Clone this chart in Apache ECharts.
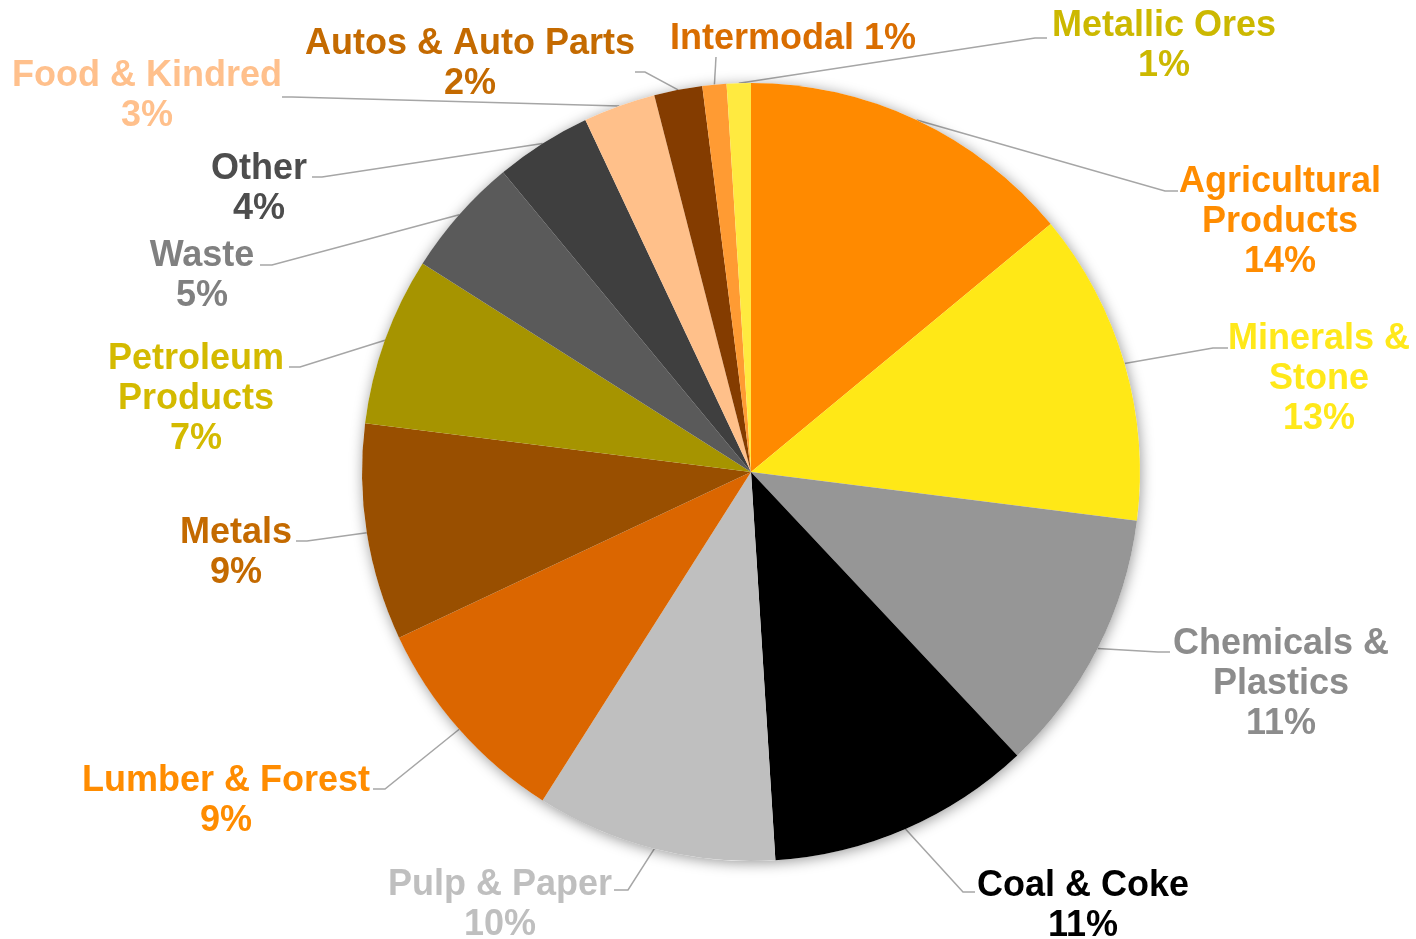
<!DOCTYPE html>
<html>
<head>
<meta charset="utf-8">
<script src="https://cdn.jsdelivr.net/npm/echarts@6/dist/echarts.min.js"></script>
<style>
html,body{margin:0;padding:0;background:#ffffff;}
#chart{width:1416px;height:939px;}
</style>
</head>
<body>
<div id="chart"></div>
<script>
// ---- data ----
const categories = ['Agricultural Products','Minerals & Stone','Chemicals & Plastics','Coal & Coke','Pulp & Paper','Lumber & Forest','Metals','Petroleum Products','Waste','Other','Food & Kindred','Autos & Auto Parts','Intermodal','Metallic Ores'];
const shares = [14,13,11,11,10,9,9,7,5,4,3,2,1,1];

// ---- styles ----
const sliceColors = ['#FF8A00','#FFE817','#969696','#000000','#BFBFBF','#DB6600','#994F00','#A69400','#5A5A5A','#3F3F3F','#FFC08A','#843C00','#FF9B33','#FFEA40'];
const labelColors = ['#FF8C00','#FFE81A','#8C8C8C','#000000','#BFBFBF','#FF8C00','#C46A00','#D4BA00','#808080','#4D4D4D','#FFC08C','#C46A00','#D96D00','#CCB800'];
const labelWrap = {
  'Agricultural Products':'Agricultural\nProducts',
  'Minerals & Stone':'Minerals &\nStone',
  'Chemicals & Plastics':'Chemicals &\nPlastics',
  'Petroleum Products':'Petroleum\nProducts'
};
const sameLine = {'Intermodal': true};

// label placement: [text centre x, first line centre y, leader end x, leader end y, elbow x]
const labelPlacement = [
  [1280, 182, 1178, 191, 1165],
  [1319, 339, 1228, 348, 1213],
  [1281, 644, 1170, 652, 1158],
  [1083, 886,  975, 892,  963],
  [ 500, 885,  614, 890,  628],
  [ 226, 781,  373, 789,  385],
  [ 236, 533,  296, 541,  307],
  [ 196, 359,  289, 367,  300],
  [ 202, 256,  260, 265,  272],
  [ 259, 169,  312, 177,  322],
  [ 147,  76,  282,  97,  292],
  [ 470,  44,  635,  72,  645],
  [ 793,  39,  716,  57,  716],
  [1164,  26, 1047,  38, 1035]
];
const LINE_H = 40;

const chart = echarts.init(document.getElementById('chart'), null, {renderer:'canvas'});

const data = categories.map((name, i) => ({
  name: name,
  value: shares[i],
  itemStyle: {color: sliceColors[i]},
  label: {color: labelColors[i]}
}));

const option = {
  animation: false,
  backgroundColor: '#ffffff',
  series: [
    {
      type: 'pie',
      silent: true,
      center: [751, 472],
      radius: 389,
      label: {show: false},
      labelLine: {show: false},
      itemStyle: {color: '#ffffff', shadowBlur: 14, shadowColor: 'rgba(0,0,0,0.4)', shadowOffsetX: 1, shadowOffsetY: 2},
      data: [{value: 1, name: 'shadow'}]
    },
    {
      type: 'pie',
      center: [751, 472],
      radius: 389,
      startAngle: 90,
      clockwise: true,
      avoidLabelOverlap: false,
      percentPrecision: 0,
      itemStyle: {borderWidth: 0},
      label: {
        show: true,
        position: 'outside',
        fontFamily: '"Liberation Sans", Arial, sans-serif',
        fontWeight: 'bold',
        fontSize: 36,
        lineHeight: LINE_H,
        align: 'center',
        formatter: function (p) {
          const txt = labelWrap[p.name] || p.name;
          return txt + (sameLine[p.name] ? ' ' : '\n') + Math.round(p.percent) + '%';
        }
      },
      labelLine: {
        show: true,
        length: 10,
        length2: 10,
        smooth: false,
        lineStyle: {color: '#A6A6A6', width: 1.5}
      },
      labelLayout: function (p) {
        const L = labelPlacement[p.dataIndex];
        if (!L) return {};
        const start = p.labelLinePoints ? p.labelLinePoints[0] : [L[4], L[3]];
        return {
          x: L[0],
          y: L[1] - LINE_H / 2,
          align: 'center',
          verticalAlign: 'top',
          labelLinePoints: [start, [L[4], L[3]], [L[2], L[3]]]
        };
      },
      data: data
    }
  ]
};
chart.setOption(option);
</script>
</body>
</html>
